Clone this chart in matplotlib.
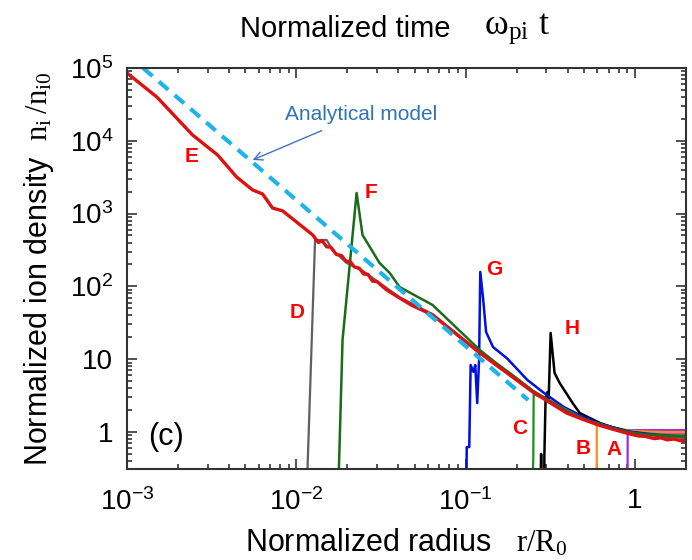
import matplotlib
matplotlib.use('Agg')
import matplotlib.pyplot as plt
from matplotlib.ticker import FixedLocator, FixedFormatter, LogLocator, NullFormatter

plt.rcParams['font.family'] = ['Liberation Sans', 'DejaVu Sans']
plt.rcParams['mathtext.fontset'] = 'custom'
plt.rcParams['mathtext.rm'] = 'Liberation Sans'
plt.rcParams['mathtext.sf'] = 'Liberation Serif'

# ---- data ----
# E (red) - the full profile
r_E = [1.0e-3, 1.5e-3, 2.44e-3, 3.43e-3, 4.44e-3, 5.52e-3, 6.32e-3, 7.24e-3, 8.3e-3,
       0.0125, 0.0135, 0.0142, 0.0151, 0.0160, 0.0172, 0.0185, 0.0197, 0.0207, 0.0220,
       0.0235, 0.0250, 0.0265, 0.0282, 0.030, 0.034, 0.0407, 0.048, 0.0638, 0.08, 0.1,
       0.121, 0.15, 0.19, 0.249, 0.3, 0.395, 0.5, 0.619, 0.75, 0.931, 1.05, 1.15, 1.3,
       1.42, 1.55, 1.7, 1.85, 2.0]
n_E = [85300, 40000, 12000, 6380, 3180, 2110, 1860, 1190, 1090,
       508, 400, 425, 350, 345, 275, 265, 220, 222, 185,
       178, 148, 146, 118, 116, 90, 69.3, 55, 40.5, 26.4, 17.4,
       12.2, 8.44, 5.64, 3.54, 2.71, 1.82, 1.47, 1.23, 1.08, 0.94, 0.88, 0.87, 0.81,
       0.83, 0.78, 0.8, 0.76, 0.77]

# analytical model (straight line in log-log)
r_model = [1.245e-3, 0.234]
n_model = [1e5, 2.75]

# D (gray)
r_D = [0.01157, 0.0129, 0.0151, 0.0164, 0.0198, 0.025, 0.0407, 0.0638, 0.121, 0.249, 0.5, 0.93, 2.0]
n_D = [0.2, 434, 434, 316, 210, 160, 71, 41.5, 12.5, 3.6, 1.5, 0.97, 0.82]

# F (dark green)
r_F = [0.01774, 0.01875, 0.0227, 0.0246, 0.0310, 0.0356, 0.0407, 0.0638, 0.121, 0.15,
       0.19, 0.249, 0.3, 0.4, 0.5, 0.62, 0.75, 0.93, 1.2, 1.5, 2.0]
n_F = [0.2, 18.4, 1920, 508, 210, 153, 98, 55.5, 13.4, 9.0,
       6.0, 3.7, 2.85, 1.9, 1.52, 1.27, 1.12, 0.99, 0.92, 0.89, 0.87]

# G (blue)
r_G = [0.101, 0.1015, 0.105, 0.107, 0.111, 0.114, 0.117, 0.120, 0.122, 0.127, 0.132,
       0.145, 0.176, 0.231, 0.287, 0.38, 0.5, 0.62, 0.75, 0.93, 1.2, 1.5, 2.0]
n_G = [0.2, 0.62, 0.62, 8.3, 6.7, 8.3, 2.5, 9.75, 158, 65, 23.6,
       14.7, 10.2, 5.2, 3.5, 2.2, 1.6, 1.3, 1.15, 1.01, 0.94, 0.89, 0.86]

# H (black)
r_H = [0.277, 0.279, 0.281, 0.2913, 0.2915, 0.2963, 0.304, 0.309, 0.3175, 0.335, 0.359,
       0.428, 0.472, 0.62, 0.75, 0.93, 1.2, 1.5, 2.0]
n_H = [0.2, 0.5, 0.2, 0.2, 0.454, 2.75, 3.54, 2.75, 22.9, 6.46, 4.71,
       2.5, 1.82, 1.33, 1.14, 1.0, 0.92, 0.87, 0.84]

# C (green)
r_C = [0.249, 0.251, 0.252, 0.3, 0.4, 0.5, 0.62, 0.75, 0.93, 1.2, 1.5, 2.0]
n_C = [0.2, 0.5, 3.3, 2.85, 1.92, 1.54, 1.29, 1.14, 1.01, 0.95, 0.91, 0.89]

# B (orange)
r_B = [0.594, 0.595, 0.62, 0.75, 0.93, 1.2, 1.5, 2.0]
n_B = [0.2, 1.3, 1.27, 1.15, 1.04, 1.01, 1.0, 1.0]

# A (purple)
r_A = [0.904, 0.905, 1.2, 2.0]
n_A = [0.2, 1.06, 1.06, 1.06]

# other unlabelled profiles in the bundle at the right end
r_yel = [0.5, 0.62, 0.75, 0.93, 1.2, 1.5, 2.0]
n_yel = [1.56, 1.3, 1.16, 1.04, 1.0, 0.98, 0.97]
r_cya = [0.6, 0.75, 0.93, 1.2, 1.5, 2.0]
n_cya = [1.3, 1.15, 1.02, 0.96, 0.93, 0.91]
r_mag = [0.7, 0.93, 1.2, 1.5, 2.0]
n_mag = [1.19, 1.03, 0.98, 0.95, 0.94]

x_ticks = [1e-3, 1e-2, 1e-1, 1]
x_labels = [r'$\mathrm{10^{-3}}$', r'$\mathrm{10^{-2}}$', r'$\mathrm{10^{-1}}$', '1']
y_ticks = [1, 10, 1e2, 1e3, 1e4, 1e5]
y_labels = ['1', '10', r'$\mathrm{10^2}$', r'$\mathrm{10^3}$', r'$\mathrm{10^4}$', r'$\mathrm{10^5}$']

# curve labels (letter, r, n)
letters = ['E', 'F', 'D', 'G', 'H', 'C', 'B', 'A']
letter_r = [2.41e-3, 0.0275, 0.01005, 0.148, 0.428, 0.208, 0.491, 0.748]
letter_n = [5990, 1920, 43.1, 173, 26, 1.1, 0.60, 0.566]

fig = plt.figure(figsize=(6.92, 5.60), dpi=100)
ax = fig.add_axes([0.1835, 0.1625, 0.8078, 0.7161])
ax.set_xscale('log')
ax.set_yscale('log')

ax.plot(r_yel, n_yel, color='#E8CC00', lw=1.4)
ax.plot(r_cya, n_cya, color='#20B8E0', lw=1.4)
ax.plot(r_mag, n_mag, color='#E040C0', lw=1.4)
ax.plot(r_A, n_A, color='#9B30D8', lw=1.6)
ax.plot(r_B, n_B, color='#FF8C1A', lw=1.6)
ax.plot(r_C, n_C, color='#1E8C1E', lw=1.6)
ax.plot(r_H, n_H, color='black', lw=1.8)
ax.plot(r_G, n_G, color='#0010DD', lw=1.8)
ax.plot(r_D, n_D, color='#606060', lw=1.6)
ax.plot(r_F, n_F, color='#1A6B1A', lw=1.8)
ax.plot(r_E, n_E, color='#DD1111', lw=2.4)
ax.plot(r_model, n_model, color='#1EB4EA', lw=3.0, ls=(0, (3, 2)))

for lab, lr, ln in zip(letters, letter_r, letter_n):
    ax.text(lr, ln, lab, color='#FF0000', fontsize=15, fontweight='bold',
            ha='center', va='center')

ax.annotate('Analytical model', xy=(5.52e-3, 5450), xytext=(8.53e-3, 23300),
            color='#2E75B6', fontsize=15, va='center', ha='left',
            arrowprops=dict(arrowstyle='->', color='#4472C4', lw=1.0,
                            shrinkA=8, shrinkB=0))

ax.text(0.07, 0.08, '(c)', transform=ax.transAxes, fontsize=22, ha='center', va='center')

ax.set_xlim(1e-3, 2)
ax.set_ylim(0.31, 1e5)

ax.xaxis.set_major_locator(FixedLocator(x_ticks))
ax.xaxis.set_major_formatter(FixedFormatter(x_labels))
ax.xaxis.set_minor_locator(LogLocator(base=10, subs=range(2, 10)))
ax.xaxis.set_minor_formatter(NullFormatter())
ax.yaxis.set_major_locator(FixedLocator(y_ticks))
ax.yaxis.set_major_formatter(FixedFormatter(y_labels))
ax.yaxis.set_minor_locator(LogLocator(base=10, subs=range(2, 10)))
ax.yaxis.set_minor_formatter(NullFormatter())

ax.tick_params(which='both', direction='in', top=True, right=True, color='#333333', width=1.2)
ax.tick_params(which='major', length=7, labelsize=20)
ax.tick_params(axis='x', which='major', pad=14)
ax.tick_params(axis='y', which='major', pad=10)
ax.tick_params(which='minor', length=3.5)
for sp in ax.spines.values():
    sp.set_color('#333333')
    sp.set_linewidth(1.5)

ax.set_xlabel(r'Normalized radius   $\mathsf{r/R_0}$', fontsize=22, labelpad=8)
ax.set_ylabel(r'Normalized ion density  $\mathsf{n_i\,/n_{i0}}$', fontsize=22, labelpad=10)

# title in two pieces: sans words and a larger serif symbol part
fig.text(451 / 692, 1 - 29 / 560, 'Normalized time', fontsize=21, ha='right', va='center')
fig.text(484 / 692, 1 - 29 / 560, r'$\mathsf{\omega_{pi}\;t}$', fontsize=26, ha='left', va='center')

fig.savefig('out.png', dpi=100)
